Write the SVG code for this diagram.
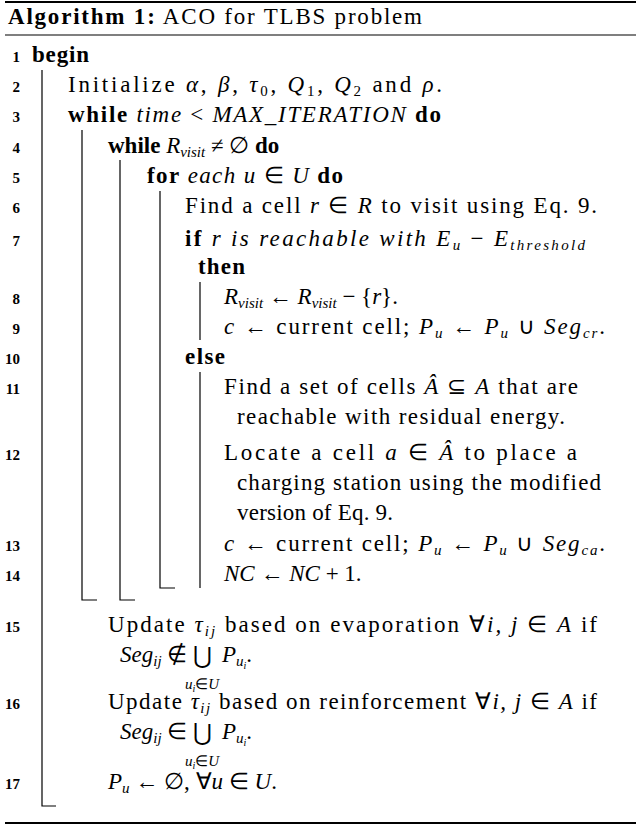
<svg xmlns="http://www.w3.org/2000/svg" width="640" height="827" viewBox="0 0 640 827">
<style>
text{font-family:"Liberation Serif","Times New Roman",serif;font-size:23px;fill:#000}
.n{font-size:15px;font-weight:bold;text-anchor:end}
.b{font-weight:bold}
.i{font-style:italic}
.s{font-size:15px}
.bar{stroke:#000;stroke-width:1.2;fill:none}
.rule{stroke:#000;fill:none}
</style>
<rect width="640" height="827" fill="#fff"/>
<line class="rule" x1="5" y1="2" x2="636" y2="2" stroke-width="2"/>
<line class="rule" x1="5" y1="35" x2="636" y2="35" stroke-width="1.2"/>
<line class="rule" x1="5" y1="823" x2="636" y2="823" stroke-width="2"/>
<text x="8" y="24" textLength="414" lengthAdjust="spacing"><tspan class="b">Algorithm 1:</tspan> ACO for TLBS problem</text>
<g id="bars">
<path class="bar" d="M42 70V806H56"/>
<path class="bar" d="M82 130V600H97"/>
<path class="bar" d="M120 160V600H135"/>
<path class="bar" d="M160 191V588H175"/>
<path class="bar" d="M200 282V340"/>
<path class="bar" d="M200 372V588"/>
</g>
<g id="nums">
<text class="n" x="20" y="62">1</text><text class="n" x="20" y="92">2</text><text class="n" x="20" y="122">3</text>
<text class="n" x="20" y="153">4</text><text class="n" x="20" y="183">5</text><text class="n" x="20" y="213">6</text>
<text class="n" x="20" y="246">7</text><text class="n" x="20" y="304">8</text><text class="n" x="20" y="334">9</text>
<text class="n" x="20" y="364">10</text><text class="n" x="20" y="394">11</text><text class="n" x="20" y="460">12</text>
<text class="n" x="20" y="551">13</text><text class="n" x="20" y="581">14</text><text class="n" x="20" y="632">15</text>
<text class="n" x="20" y="709">16</text><text class="n" x="20" y="789">17</text>
</g>
<g id="lines">
<text class="b" x="32" y="62" textLength="57">begin</text>
<text x="68" y="92" textLength="374" lengthAdjust="spacing">Initialize <tspan class="i">α</tspan>, <tspan class="i">β</tspan>, <tspan class="i">τ</tspan><tspan class="s" dy="4">0</tspan><tspan dy="-4">, </tspan><tspan class="i">Q</tspan><tspan class="s" dy="4">1</tspan><tspan dy="-4">, </tspan><tspan class="i">Q</tspan><tspan class="s" dy="4">2</tspan><tspan dy="-4"> and </tspan><tspan class="i">ρ</tspan>.</text>
<text x="68" y="122" textLength="373" lengthAdjust="spacing"><tspan class="b">while</tspan> <tspan class="i">time</tspan> &lt; <tspan class="i">MAX_ITERATION</tspan> <tspan class="b">do</tspan></text>
<text x="108" y="153"><tspan class="b">while</tspan> <tspan class="i">R</tspan><tspan class="s i" dy="4">visit</tspan><tspan dy="-4"> ≠ ∅ </tspan><tspan class="b">do</tspan></text>
<text x="147" y="183" textLength="196" lengthAdjust="spacing"><tspan class="b">for</tspan> <tspan class="i">each u</tspan> ∈ <tspan class="i">U</tspan> <tspan class="b">do</tspan></text>
<text x="185" y="213" textLength="412" lengthAdjust="spacing">Find a cell <tspan class="i">r</tspan> ∈ <tspan class="i">R</tspan> to visit using Eq. 9.</text>
<text x="185" y="246" textLength="400" lengthAdjust="spacing"><tspan class="b">if</tspan> <tspan class="i">r is reachable with E</tspan><tspan class="s i" dy="4">u</tspan><tspan dy="-4"> − </tspan><tspan class="i">E</tspan><tspan class="s i" dy="4">threshold</tspan></text>
<text class="b" x="198" y="274" textLength="47">then</text>
<text x="224" y="304"><tspan class="i">R</tspan><tspan class="s i" dy="4">visit</tspan><tspan dy="-4">  ←  </tspan><tspan class="i">R</tspan><tspan class="s i" dy="4">visit</tspan><tspan dy="-4">  −  {</tspan><tspan class="i">r</tspan>}.</text>
<text x="224" y="334" textLength="381" lengthAdjust="spacing"><tspan class="i">c</tspan> ← current cell; <tspan class="i">P</tspan><tspan class="s i" dy="4">u</tspan><tspan dy="-4"> ← </tspan><tspan class="i">P</tspan><tspan class="s i" dy="4">u</tspan><tspan dy="-4"> ∪ </tspan><tspan class="i">Seg</tspan><tspan class="s i" dy="4">cr</tspan><tspan dy="-4">.</tspan></text>
<text class="b" x="185" y="364" textLength="40">else</text>
<text x="224" y="394" textLength="354" lengthAdjust="spacing">Find a set of cells <tspan class="i">Â</tspan> ⊆ <tspan class="i">A</tspan> that are</text>
<text x="237" y="424" textLength="328" lengthAdjust="spacing">reachable with residual energy.</text>
<text x="224" y="460" textLength="353" lengthAdjust="spacing">Locate a cell <tspan class="i">a</tspan> ∈ <tspan class="i">Â</tspan> to place a</text>
<text x="237" y="490" textLength="364" lengthAdjust="spacing">charging station using the modified</text>
<text x="237" y="520" textLength="156" lengthAdjust="spacing">version of Eq. 9.</text>
<text x="224" y="551" textLength="381" lengthAdjust="spacing"><tspan class="i">c</tspan> ← current cell; <tspan class="i">P</tspan><tspan class="s i" dy="4">u</tspan><tspan dy="-4"> ← </tspan><tspan class="i">P</tspan><tspan class="s i" dy="4">u</tspan><tspan dy="-4"> ∪ </tspan><tspan class="i">Seg</tspan><tspan class="s i" dy="4">ca</tspan><tspan dy="-4">.</tspan></text>
<text x="224" y="581"><tspan class="i">NC</tspan>  ←  <tspan class="i">NC</tspan>  +  1.</text>
<text x="108" y="632" textLength="489" lengthAdjust="spacing">Update <tspan class="i">τ</tspan><tspan class="s i" dy="4">ij</tspan><tspan dy="-4"> based on evaporation ∀</tspan><tspan class="i">i, j</tspan> ∈ <tspan class="i">A</tspan> if</text>
<text x="120" y="662"><tspan class="i">Seg</tspan><tspan class="s i" dy="4">ij</tspan><tspan dy="-4"> ∉ </tspan></text>
<text x="202" y="663" font-size="28" text-anchor="middle">⋃</text>
<text x="222" y="662"><tspan class="i">P</tspan><tspan class="s i" dy="4">u</tspan><tspan font-size="10" class="i" dy="3">i</tspan><tspan dy="-7">.</tspan></text>
<text x="202" y="689" class="s i" text-anchor="middle">u<tspan font-size="10" dy="3">i</tspan><tspan dy="-3" font-style="normal">∈</tspan>U</text>
<text x="108" y="709" textLength="489" lengthAdjust="spacing">Update <tspan class="i">τ</tspan><tspan class="s i" dy="4">ij</tspan><tspan dy="-4"> based on reinforcement ∀</tspan><tspan class="i">i, j</tspan> ∈ <tspan class="i">A</tspan> if</text>
<text x="120" y="739"><tspan class="i">Seg</tspan><tspan class="s i" dy="4">ij</tspan><tspan dy="-4"> ∈ </tspan></text>
<text x="202" y="740" font-size="28" text-anchor="middle">⋃</text>
<text x="222" y="739"><tspan class="i">P</tspan><tspan class="s i" dy="4">u</tspan><tspan font-size="10" class="i" dy="3">i</tspan><tspan dy="-7">.</tspan></text>
<text x="202" y="766" class="s i" text-anchor="middle">u<tspan font-size="10" dy="3">i</tspan><tspan dy="-3" font-style="normal">∈</tspan>U</text>
<text x="108" y="789"><tspan class="i">P</tspan><tspan class="s i" dy="4">u</tspan><tspan dy="-4"> ← ∅, ∀</tspan><tspan class="i">u</tspan> ∈ <tspan class="i">U</tspan>.</text>
</g>
</svg>
